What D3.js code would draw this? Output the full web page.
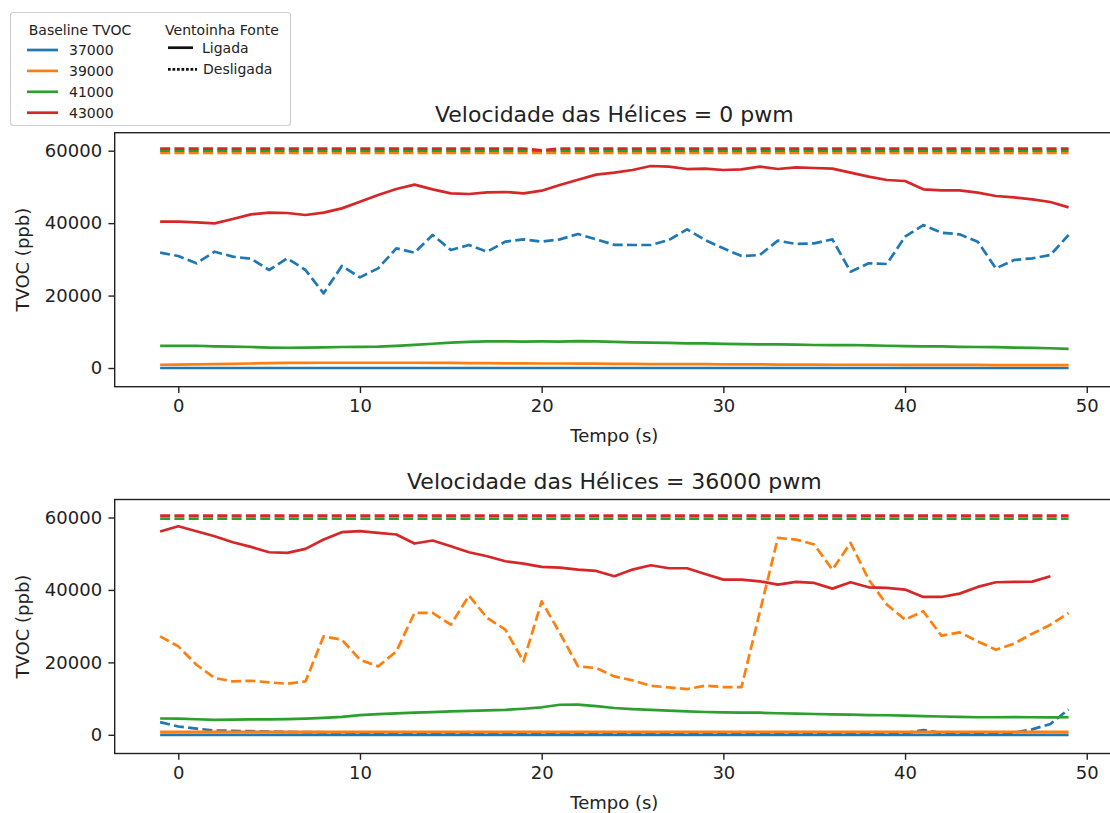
<!DOCTYPE html>
<html>
<head>
<meta charset="utf-8">
<script src="https://cdn.jsdelivr.net/npm/d3@7"></script>
<style>
  body { margin: 0; background: #fff; }
  svg { font-family: "DejaVu Sans", sans-serif; }
</style>
</head>
<body>
<svg id="chart" width="1110" height="813"></svg>
<script>
// tempo (s), de -1 a 49
var tempo = [-1, 0, 1, 2, 3, 4, 5, 6, 7, 8, 9, 10, 11, 12, 13, 14, 15, 16, 17, 18, 19, 20, 21, 22, 23, 24,
  25, 26, 27, 28, 29, 30, 31, 32, 33, 34, 35, 36, 37, 38, 39, 40, 41, 42, 43, 44, 45, 46, 47, 48, 49];

var baselines = ['37000', '39000', '41000', '43000'];
var xTicks = [0, 10, 20, 30, 40, 50];
var yTicks = [0, 20000, 40000, 60000];

// --- Velocidade das Helices = 0 pwm ---
var p0Lig37000 = [0, 0, 0, 0, 0, 0, 0, 0, 0, 0, 0, 0, 0, 0, 0, 0, 0, 0, 0, 0, 0, 0, 0, 0, 0, 0,
  0, 0, 0, 0, 0, 0, 0, 0, 0, 0, 0, 0, 0, 0, 0, 0, 0, 0, 0, 0, 0, 0, 0, 0, 0];
var p0Lig39000 = [900, 950, 1000, 1050, 1150, 1250, 1350, 1400, 1400, 1450,
  1450, 1450, 1450, 1450, 1450, 1400, 1400, 1350, 1350, 1300,
  1300, 1250, 1250, 1200, 1200, 1150, 1150, 1100, 1100, 1050,
  1050, 1000, 1000, 1000, 950, 950, 950, 900, 900, 900,
  900, 850, 850, 850, 850, 850, 800, 800, 800, 800, 800];
var p0Lig41000 = [6100, 6100, 6150, 6000, 5900, 5800, 5650, 5600, 5650, 5700,
  5800, 5850, 5900, 6100, 6400, 6700, 7000, 7200, 7350, 7350,
  7300, 7350, 7300, 7450, 7350, 7200, 7100, 7000, 6950, 6800,
  6800, 6650, 6600, 6550, 6550, 6450, 6350, 6300, 6350, 6250,
  6150, 6050, 6000, 5950, 5850, 5800, 5750, 5650, 5550, 5450, 5300];
var p0Lig43000 = [40400, 40400, 40220, 39940, 41140, 42430, 42890, 42800, 42240, 42890,
  44080, 45920, 47760, 49420, 50620, 49330, 48220, 48040, 48500, 48590,
  48220, 48960, 50530, 52000, 53400, 53930, 54670, 55770, 55590, 54940,
  55040, 54670, 54850, 55590, 54940, 55400, 55220, 55040, 53930, 52830,
  51910, 51630, 49330, 49050, 49050, 48410, 47490, 47120, 46570, 45830, 44360];
var p0Des37000 = [31840, 30920, 28900, 32120, 30740, 30190, 27060, 30280, 27060, 20620,
  28160, 25030, 27520, 33040, 31840, 36720, 32580, 33960, 32120, 34880,
  35520, 34880, 35520, 36990, 35520, 34000, 33960, 33960, 35340, 38280,
  35340, 33040, 30920, 31200, 35160, 34240, 34420, 35520, 26600, 28900,
  28720, 36260, 39480, 37370, 36910, 34880, 27520, 29820, 30280, 31200, 36720];
var p0Des39000 = [59400, 59400, 59400, 59400, 59400, 59400, 59400, 59400, 59400, 59400,
  59400, 59400, 59400, 59400, 59400, 59400, 59400, 59400, 59400, 59400,
  59400, 59400, 59400, 59400, 59400, 59400, 59400, 59400, 59400, 59400,
  59400, 59400, 59400, 59400, 59400, 59400, 59400, 59400, 59400, 59400,
  59400, 59400, 59400, 59400, 59400, 59400, 59400, 59400, 59400, 59400, 59400];
var p0Des41000 = [60000, 60000, 60000, 60000, 60000, 60000, 60000, 60000, 60000, 60000,
  60000, 60000, 60000, 60000, 60000, 60000, 60000, 60000, 60000, 60000,
  60000, 60000, 60000, 60000, 60000, 60000, 60000, 60000, 60000, 60000,
  60000, 60000, 60000, 60000, 60000, 60000, 60000, 60000, 60000, 60000,
  60000, 60000, 60000, 60000, 60000, 60000, 60000, 60000, 60000, 60000, 60000];
var p0Des43000 = [60600, 60600, 60600, 60600, 60600, 60600, 60600, 60600, 60600, 60600,
  60600, 60600, 60600, 60600, 60600, 60600, 60600, 60600, 60600, 60600,
  60600, 60100, 60600, 60600, 60600, 60600, 60600, 60600, 60600, 60600,
  60600, 60600, 60600, 60600, 60600, 60600, 60600, 60600, 60600, 60600,
  60600, 60600, 60600, 60600, 60600, 60600, 60600, 60600, 60600, 60600, 60600];

// --- Velocidade das Helices = 36000 pwm ---
var p36Lig37000 = [0, 0, 0, 0, 0, 0, 0, 0, 0, 0, 0, 0, 0, 0, 0, 0, 0, 0, 0, 0, 0, 0, 0, 0, 0, 0,
  0, 0, 0, 0, 0, 0, 0, 0, 0, 0, 0, 0, 0, 0, 0, 0, 0, 0, 0, 0, 0, 0, 0, 0, 0];
var p36Lig39000 = [800, 800, 800, 800, 800, 800, 800, 800, 800, 800,
  800, 800, 800, 800, 800, 800, 800, 800, 800, 800,
  800, 800, 800, 800, 800, 800, 800, 800, 800, 800,
  800, 800, 800, 800, 800, 800, 800, 800, 800, 800,
  800, 800, 800, 800, 800, 800, 800, 800, 800, 800, 800];
var p36Lig41000 = [4500, 4450, 4300, 4150, 4200, 4250, 4250, 4350, 4450, 4650,
  4950, 5450, 5700, 5900, 6100, 6250, 6450, 6600, 6750, 6900,
  7200, 7600, 8300, 8350, 7900, 7400, 7100, 6900, 6700, 6450,
  6300, 6200, 6150, 6100, 5950, 5850, 5750, 5650, 5550, 5450,
  5400, 5300, 5150, 5050, 4950, 4850, 4850, 4900, 4850, 4800, 4850];
// termina em t = 48
var p36Lig43000 = [56130, 57600, 56220, 54830, 53170, 51880, 50410, 50230, 51330, 53910,
  55940, 56220, 55760, 55300, 52810, 53640, 52070, 50410, 49300, 47920,
  47280, 46350, 46170, 45620, 45250, 43780, 45620, 46820, 45990, 45990,
  44420, 42850, 42850, 42390, 41470, 42210, 41930, 40360, 42120, 40730,
  40550, 40090, 38060, 38060, 38980, 40830, 42120, 42210, 42300, 43780];
var p36Des37000 = [3500, 2300, 1700, 1200, 1100, 1000, 900, 800, 750, 700,
  650, 600, 550, 500, 500, 450, 450, 400, 400, 400,
  400, 400, 400, 400, 400, 400, 400, 400, 400, 450,
  450, 450, 450, 450, 450, 450, 450, 450, 450, 450,
  450, 450, 1300, 500, 450, 450, 450, 600, 1500, 3000, 7000];
var p36Des39000 = [27180, 24420, 19350, 15670, 14750, 14930, 14470, 14100, 14750, 27180,
  26260, 20730, 18890, 23040, 33640, 33640, 30410, 38430, 32250, 29030,
  20270, 36860, 28110, 18890, 18430, 16130, 15020, 13550, 13090, 12630,
  13550, 13180, 13180, 33800, 54370, 53910, 52530, 45620, 52990, 42850,
  35940, 31790, 34100, 27370, 28290, 25800, 23500, 25160, 27920, 30410, 33640];
var p36Des41000 = [59700, 59700, 59700, 59700, 59700, 59700, 59700, 59700, 59700, 59700,
  59700, 59700, 59700, 59700, 59700, 59700, 59700, 59700, 59700, 59700,
  59700, 59700, 59700, 59700, 59700, 59700, 59700, 59700, 59700, 59700,
  59700, 59700, 59700, 59700, 59700, 59700, 59700, 59700, 59700, 59700,
  59700, 59700, 59700, 59700, 59700, 59700, 59700, 59700, 59700, 59700, 59700];
var p36Des43000 = [60500, 60500, 60500, 60500, 60500, 60500, 60500, 60500, 60500, 60500,
  60500, 60500, 60500, 60500, 60500, 60500, 60500, 60500, 60500, 60500,
  60500, 60500, 60500, 60500, 60500, 60500, 60500, 60500, 60500, 60500,
  60500, 60500, 60500, 60500, 60500, 60500, 60500, 60500, 60500, 60500,
  60500, 60500, 60500, 60500, 60500, 60500, 60500, 60500, 60500, 60500, 60500];

var cores = ['#1f77b4', '#ff7f0e', '#2ca02c', '#d62728'];

var paineis = [
  {
    titulo: 'Velocidade das Hélices = 0 pwm',
    top: 132.7,
    ligada: [p0Lig37000, p0Lig39000, p0Lig41000, p0Lig43000],
    desligada: [p0Des37000, p0Des39000, p0Des41000, p0Des43000]
  },
  {
    titulo: 'Velocidade das Hélices = 36000 pwm',
    top: 499.5,
    ligada: [p36Lig37000, p36Lig39000, p36Lig41000, p36Lig43000],
    desligada: [p36Des37000, p36Des39000, p36Des41000, p36Des43000]
  }
];

var left = 114.7, right = 1114, h = 254;
var lw = 2.7;

var svg = d3.select('#chart');

var x = d3.scaleLinear().domain([-3.5, 51.5]).range([left, right]);

paineis.forEach(function (p, pi) {
  var y = d3.scaleLinear().domain([-5160, 64970]).range([p.top + h, p.top]);
  var g = svg.append('g');

  g.append('clipPath').attr('id', 'clip' + pi)
    .append('rect').attr('x', left).attr('y', p.top).attr('width', right - left).attr('height', h);

  var line = d3.line()
    .x(function (d, i) { return x(tempo[i]); })
    .y(function (d) { return y(d); });

  var plot = g.append('g').attr('clip-path', 'url(#clip' + pi + ')');

  baselines.forEach(function (b, i) {
    plot.append('path')
      .datum(p.ligada[i])
      .attr('d', line)
      .attr('fill', 'none')
      .attr('stroke', cores[i])
      .attr('stroke-width', lw)
      .attr('stroke-linejoin', 'round');
    plot.append('path')
      .datum(p.desligada[i])
      .attr('d', line)
      .attr('fill', 'none')
      .attr('stroke', cores[i])
      .attr('stroke-width', lw)
      .attr('stroke-dasharray', '10,4.3')
      .attr('stroke-linejoin', 'round');
  });

  // spines
  g.append('rect')
    .attr('x', left).attr('y', p.top)
    .attr('width', right - left).attr('height', h)
    .attr('fill', 'none').attr('stroke', '#222').attr('stroke-width', 1.4);

  var xAxis = g.append('g')
    .attr('transform', 'translate(0,' + (p.top + h) + ')')
    .call(d3.axisBottom(x).tickValues(xTicks).tickSize(6.3).tickPadding(6.3).tickSizeOuter(0));
  var yAxis = g.append('g')
    .attr('transform', 'translate(' + left + ',0)')
    .call(d3.axisLeft(y).tickValues(yTicks).tickFormat(d3.format('d')).tickSize(6.3).tickPadding(6.3).tickSizeOuter(0));

  [xAxis, yAxis].forEach(function (a) {
    a.select('.domain').remove();
    a.selectAll('line').attr('stroke', '#222').attr('stroke-width', 1.4);
    a.selectAll('text').attr('font-size', 18).attr('fill', '#222')
      .attr('font-family', '"DejaVu Sans", sans-serif');
  });

  g.append('text')
    .attr('x', (left + right) / 2).attr('y', p.top - 10.8)
    .attr('text-anchor', 'middle').attr('font-size', 22).attr('fill', '#222')
    .text(p.titulo);

  g.append('text')
    .attr('x', (left + right) / 2).attr('y', p.top + h + 55)
    .attr('text-anchor', 'middle').attr('font-size', 18).attr('fill', '#222')
    .text('Tempo (s)');

  g.append('text')
    .attr('transform', 'translate(29,' + (p.top + h / 2) + ') rotate(-90)')
    .attr('text-anchor', 'middle').attr('font-size', 18).attr('fill', '#222')
    .text('TVOC (ppb)');
});

// legenda
var leg = svg.append('g');
leg.append('rect')
  .attr('x', 10.5).attr('y', 12.5).attr('width', 280).attr('height', 113)
  .attr('rx', 3).attr('fill', '#fff').attr('fill-opacity', 0.8)
  .attr('stroke', '#d0d0d0').attr('stroke-width', 1.2);

leg.append('text').attr('x', 80).attr('y', 35).attr('text-anchor', 'middle')
  .attr('font-size', 14).attr('fill', '#222').text('Baseline TVOC');

baselines.forEach(function (b, i) {
  var yy = 50 + i * 20.9;
  leg.append('line').attr('x1', 27).attr('x2', 58).attr('y1', yy).attr('y2', yy)
    .attr('stroke', cores[i]).attr('stroke-width', lw);
  leg.append('text').attr('x', 69).attr('y', yy + 5).attr('font-size', 14)
    .attr('fill', '#222').text(b);
});

leg.append('text').attr('x', 222).attr('y', 35).attr('text-anchor', 'middle')
  .attr('font-size', 14).attr('fill', '#222').text('Ventoinha Fonte');
leg.append('line').attr('x1', 168).attr('x2', 193).attr('y1', 47.7).attr('y2', 47.7)
  .attr('stroke', '#111').attr('stroke-width', lw);
leg.append('text').attr('x', 202).attr('y', 52.5).attr('font-size', 14)
  .attr('fill', '#222').text('Ligada');
leg.append('line').attr('x1', 168).attr('x2', 197).attr('y1', 69.3).attr('y2', 69.3)
  .attr('stroke', '#111').attr('stroke-width', lw).attr('stroke-dasharray', '2.7,1.8');
leg.append('text').attr('x', 203).attr('y', 73.5).attr('font-size', 14)
  .attr('fill', '#222').text('Desligada');
</script>
</body>
</html>
